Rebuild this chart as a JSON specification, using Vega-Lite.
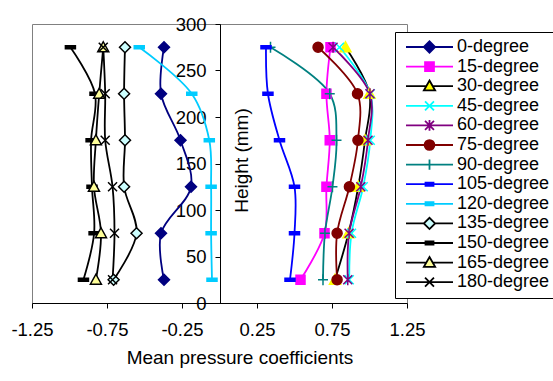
{
  "$schema": "https://vega.github.io/schema/vega-lite/v6.json",
  "width": 375,
  "height": 279,
  "autosize": {"type": "none"},
  "padding": {"left": 32, "top": 24, "right": 146, "bottom": 78},
  "background": "white",
  "config": {
    "view": {"stroke": "#808080", "strokeWidth": 1},
    "font": "Liberation Sans",
    "locale": {"number": {"decimal": ".", "thousands": ",", "grouping": [3], "currency": ["$", ""], "minus": "-"}},
    "axis": {
      "grid": false,
      "domainColor": "black",
      "tickColor": "black",
      "labelColor": "black",
      "titleColor": "black",
      "labelFont": "Liberation Sans",
      "titleFont": "Liberation Sans",
      "labelFontSize": 18.5,
      "titleFontSize": 19,
      "titleFontWeight": "normal",
      "tickSize": 5,
      "domainWidth": 1,
      "tickWidth": 1,
      "labelFlush": false,
      "labelOverlap": false
    },
    "legend": {"orient": "none", "legendX": 363, "legendY": 8, "strokeColor": "black", "fillColor": "white", "padding": 6, "symbolSize": 2209, "symbolStrokeWidth": 1.8, "symbolOffset": 4, "labelOffset": 3, "labelFontSize": 18, "labelFont": "Liberation Sans", "labelColor": "black", "rowPadding": 1.6, "clipHeight": 18, "symbolFillColor": "white", "symbolStrokeColor": "black", "labelLimit": 300, "columns": 1, "direction": "vertical"}
  },
  "data": {
    "values": [
      {"a": "0-degree", "h": 25, "cp": -0.37}, {"a": "0-degree", "h": 75, "cp": -0.39}, {"a": "0-degree", "h": 125, "cp": -0.19}, {"a": "0-degree", "h": 175, "cp": -0.26}, {"a": "0-degree", "h": 225, "cp": -0.39}, {"a": "0-degree", "h": 275, "cp": -0.37},
      {"a": "15-degree", "h": 25, "cp": 0.54}, {"a": "15-degree", "h": 75, "cp": 0.70}, {"a": "15-degree", "h": 125, "cp": 0.713}, {"a": "15-degree", "h": 175, "cp": 0.735}, {"a": "15-degree", "h": 225, "cp": 0.713}, {"a": "15-degree", "h": 275, "cp": 0.74},
      {"a": "30-degree", "h": 25, "cp": 0.77}, {"a": "30-degree", "h": 75, "cp": 0.86}, {"a": "30-degree", "h": 125, "cp": 0.925}, {"a": "30-degree", "h": 175, "cp": 0.97}, {"a": "30-degree", "h": 225, "cp": 1.0}, {"a": "30-degree", "h": 275, "cp": 0.84},
      {"a": "45-degree", "h": 25, "cp": 0.865}, {"a": "45-degree", "h": 75, "cp": 0.88}, {"a": "45-degree", "h": 125, "cp": 0.958}, {"a": "45-degree", "h": 175, "cp": 1.005}, {"a": "45-degree", "h": 225, "cp": 1.005}, {"a": "45-degree", "h": 275, "cp": 0.80},
      {"a": "60-degree", "h": 25, "cp": 0.855}, {"a": "60-degree", "h": 75, "cp": 0.864}, {"a": "60-degree", "h": 125, "cp": 0.942}, {"a": "60-degree", "h": 175, "cp": 0.99}, {"a": "60-degree", "h": 225, "cp": 1.003}, {"a": "60-degree", "h": 275, "cp": 0.757},
      {"a": "75-degree", "h": 25, "cp": 0.784}, {"a": "75-degree", "h": 75, "cp": 0.784}, {"a": "75-degree", "h": 125, "cp": 0.866}, {"a": "75-degree", "h": 175, "cp": 0.923}, {"a": "75-degree", "h": 225, "cp": 0.92}, {"a": "75-degree", "h": 275, "cp": 0.657},
      {"a": "90-degree", "h": 25, "cp": 0.69}, {"a": "90-degree", "h": 75, "cp": 0.703}, {"a": "90-degree", "h": 125, "cp": 0.753}, {"a": "90-degree", "h": 175, "cp": 0.78}, {"a": "90-degree", "h": 225, "cp": 0.735}, {"a": "90-degree", "h": 275, "cp": 0.34},
      {"a": "105-degree", "h": 25, "cp": 0.47}, {"a": "105-degree", "h": 75, "cp": 0.50}, {"a": "105-degree", "h": 125, "cp": 0.50}, {"a": "105-degree", "h": 175, "cp": 0.40}, {"a": "105-degree", "h": 225, "cp": 0.323}, {"a": "105-degree", "h": 275, "cp": 0.31},
      {"a": "120-degree", "h": 25, "cp": -0.05}, {"a": "120-degree", "h": 75, "cp": -0.056}, {"a": "120-degree", "h": 125, "cp": -0.056}, {"a": "120-degree", "h": 175, "cp": -0.068}, {"a": "120-degree", "h": 225, "cp": -0.185}, {"a": "120-degree", "h": 275, "cp": -0.535},
      {"a": "135-degree", "h": 25, "cp": -0.706}, {"a": "135-degree", "h": 75, "cp": -0.553}, {"a": "135-degree", "h": 125, "cp": -0.636}, {"a": "135-degree", "h": 175, "cp": -0.63}, {"a": "135-degree", "h": 225, "cp": -0.636}, {"a": "135-degree", "h": 275, "cp": -0.63},
      {"a": "150-degree", "h": 25, "cp": -0.907}, {"a": "150-degree", "h": 75, "cp": -0.836}, {"a": "150-degree", "h": 125, "cp": -0.85}, {"a": "150-degree", "h": 175, "cp": -0.856}, {"a": "150-degree", "h": 225, "cp": -0.83}, {"a": "150-degree", "h": 275, "cp": -0.994},
      {"a": "165-degree", "h": 25, "cp": -0.824}, {"a": "165-degree", "h": 75, "cp": -0.79}, {"a": "165-degree", "h": 125, "cp": -0.837}, {"a": "165-degree", "h": 175, "cp": -0.824}, {"a": "165-degree", "h": 225, "cp": -0.802}, {"a": "165-degree", "h": 275, "cp": -0.775},
      {"a": "180-degree", "h": 25, "cp": -0.713}, {"a": "180-degree", "h": 75, "cp": -0.70}, {"a": "180-degree", "h": 125, "cp": -0.713}, {"a": "180-degree", "h": 175, "cp": -0.762}, {"a": "180-degree", "h": 225, "cp": -0.762}, {"a": "180-degree", "h": 275, "cp": -0.775}
    ]
  },
  "layer": [
    {
      "mark": {"type": "line", "interpolate": "catmull-rom", "strokeWidth": 1.8},
      "encoding": {
        "x": {
          "field": "cp", "type": "quantitative",
          "scale": {"domain": [-1.25, 1.25], "nice": false, "zero": false},
          "axis": {"values": [-1.25, -0.75, -0.25, 0.25, 0.75, 1.25], "format": ".2f", "title": "Mean pressure coefficients", "labelPadding": 12, "titlePadding": 10, "titleX": 207.5, "titleAlign": "center"}
        },
        "y": {
          "field": "h", "type": "quantitative",
          "scale": {"domain": [0, 300], "nice": false},
          "axis": {"values": [0, 50, 100, 150, 200, 250, 300], "title": "Height (mm)", "offset": -188, "labelPadding": 9, "titleX": 21, "titleY": 136, "titleAngle": -90, "titleAlign": "center", "titleBaseline": "middle"}
        },
        "color": {
          "field": "a", "type": "nominal",
          "scale": {
            "domain": ["0-degree", "15-degree", "30-degree", "45-degree", "60-degree", "75-degree", "90-degree", "105-degree", "120-degree", "135-degree", "150-degree", "165-degree", "180-degree"],
            "range": ["#000080", "#FF00FF", "#000000", "#00FFFF", "#800080", "#800000", "#008080", "#0000FF", "#00CCFF", "#000000", "#000000", "#000000", "#000000"]
          },
          "legend": null
        },
        "order": {"field": "h", "type": "quantitative"}
      }
    },
    {
      "mark": {"type": "point", "size": 100, "strokeWidth": 1.5, "opacity": 1},
      "encoding": {
        "x": {"field": "cp", "type": "quantitative"},
        "y": {"field": "h", "type": "quantitative"},
        "shape": {
          "field": "a", "type": "nominal",
          "scale": {
            "domain": ["0-degree", "15-degree", "30-degree", "45-degree", "60-degree", "75-degree", "90-degree", "105-degree", "120-degree", "135-degree", "150-degree", "165-degree", "180-degree"],
            "range": [
              "M-1.1,0L0,-1.1L1.1,0L0,1.1Z",
              "M-0.9,-0.9H0.9V0.9H-0.9Z",
              "M0,-1.1L1.1,0.9H-1.1Z",
              "M-0.9,-0.9L0.9,0.9M-0.9,0.9L0.9,-0.9",
              "M-0.9,-0.9L0.9,0.9M-0.9,0.9L0.9,-0.9M0,-1.1V1.1",
              "circle",
              "M-1,0H1M0,-1.1V1.1",
              "M-1,-0.3H1V0.3H-1Z",
              "M-1,-0.3H1V0.3H-1Z",
              "M-1.1,0L0,-1.1L1.1,0L0,1.1Z",
              "M-1,-0.3H1V0.3H-1Z",
              "M0,-1.1L1.1,0.9H-1.1Z",
              "M-0.9,-0.9L0.9,0.9M-0.9,0.9L0.9,-0.9"
            ]
          },
          "legend": null
        },
        "fill": {
          "field": "a", "type": "nominal",
          "scale": {
            "domain": ["0-degree", "15-degree", "30-degree", "45-degree", "60-degree", "75-degree", "90-degree", "105-degree", "120-degree", "135-degree", "150-degree", "165-degree", "180-degree"],
            "range": ["#000080", "#FF00FF", "#FFFF00", "transparent", "transparent", "#800000", "transparent", "#0000FF", "#00CCFF", "#CCFFFF", "#000000", "#FFFF99", "transparent"]
          },
          "legend": null
        },
        "stroke": {
          "field": "a", "type": "nominal",
          "scale": {
            "domain": ["0-degree", "15-degree", "30-degree", "45-degree", "60-degree", "75-degree", "90-degree", "105-degree", "120-degree", "135-degree", "150-degree", "165-degree", "180-degree"],
            "range": ["#000080", "#FF00FF", "#FFFF00", "#00FFFF", "#800080", "#800000", "#008080", "#0000FF", "#00CCFF", "#000000", "#000000", "#000000", "#000000"]
          },
          "legend": null
        }
      }
    },
    {
      "mark": {"type": "point", "opacity": 0},
      "encoding": {
        "shape": {
          "field": "a", "type": "nominal",
          "scale": {
            "domain": ["0-degree", "15-degree", "30-degree", "45-degree", "60-degree", "75-degree", "90-degree", "105-degree", "120-degree", "135-degree", "150-degree", "165-degree", "180-degree"],
            "range": [
              "M-1,0H1M-0.24,0L0,-0.24L0.24,0L0,0.24Z",
              "M-1,0H1M-0.19,-0.19H0.19V0.19H-0.19Z",
              "M-1,0H-0.13M0.13,0H1M0,-0.24L0.24,0.18H-0.24Z",
              "M-1,0H1M-0.19,-0.19L0.19,0.19M-0.19,0.19L0.19,-0.19",
              "M-1,0H1M-0.19,-0.19L0.19,0.19M-0.19,0.19L0.19,-0.19M0,-0.23V0.23",
              "M-1,0H1M-0.21,0A0.21,0.21,0,1,1,0.21,0A0.21,0.21,0,1,1,-0.21,0Z",
              "M-1,0H1M0,-0.22V0.22",
              "M-1,0H1M-0.17,-0.07H0.17V0.07H-0.17Z",
              "M-1,0H1M-0.17,-0.07H0.17V0.07H-0.17Z",
              "M-1,0H-0.24M0.24,0H1M-0.24,0L0,-0.24L0.24,0L0,0.24Z",
              "M-1,0H1M-0.17,-0.07H0.17V0.07H-0.17Z",
              "M-1,0H-0.13M0.13,0H1M0,-0.24L0.24,0.18H-0.24Z",
              "M-1,0H1M-0.19,-0.19L0.19,0.19M-0.19,0.19L0.19,-0.19"
            ]
          },
          "legend": {"title": null}
        },
        "fill": {
          "field": "a", "type": "nominal",
          "scale": {
            "domain": ["0-degree", "15-degree", "30-degree", "45-degree", "60-degree", "75-degree", "90-degree", "105-degree", "120-degree", "135-degree", "150-degree", "165-degree", "180-degree"],
            "range": ["#000080", "#FF00FF", "#FFFF00", "transparent", "transparent", "#800000", "transparent", "#0000FF", "#00CCFF", "#CCFFFF", "#000000", "#FFFF99", "transparent"]
          },
          "legend": {"title": null}
        },
        "stroke": {
          "field": "a", "type": "nominal",
          "scale": {
            "domain": ["0-degree", "15-degree", "30-degree", "45-degree", "60-degree", "75-degree", "90-degree", "105-degree", "120-degree", "135-degree", "150-degree", "165-degree", "180-degree"],
            "range": ["#000080", "#FF00FF", "#000000", "#00FFFF", "#800080", "#800000", "#008080", "#0000FF", "#00CCFF", "#000000", "#000000", "#000000", "#000000"]
          },
          "legend": {"title": null}
        }
      }
    }
  ],
  "resolve": {"scale": {"shape": "independent", "fill": "independent", "stroke": "independent"}}
}
